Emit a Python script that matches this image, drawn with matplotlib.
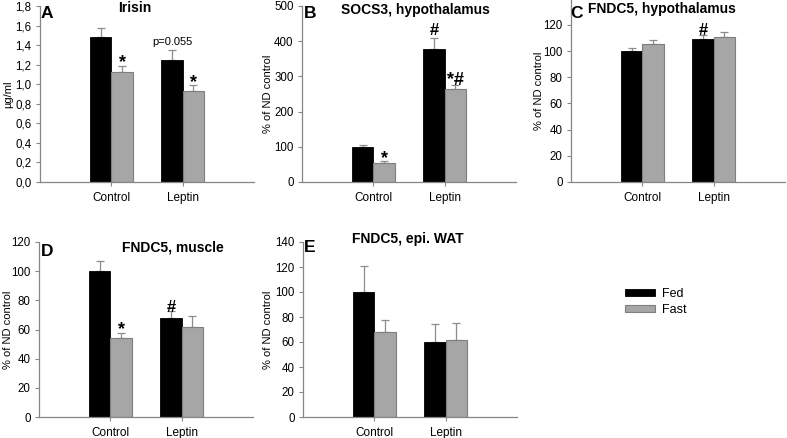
import matplotlib
matplotlib.use("Agg")
import matplotlib.pyplot as plt
from matplotlib.patches import Patch
import numpy as np

plt.rcParams['font.family'] = ['Liberation Sans', 'DejaVu Sans']

categories = ["Control", "Leptin"]
series_names = ["Fed", "Fast"]

# Panel A: Irisin (µg/ml)
a_fed = [1.48, 1.25]
a_fed_err = [0.09, 0.10]
a_fast = [1.12, 0.93]
a_fast_err = [0.07, 0.06]

# Panel B: SOCS3, hypothalamus (% of ND control)
b_fed = [100, 378]
b_fed_err = [4, 32]
b_fast = [54, 265]
b_fast_err = [5, 11]

# Panel C: FNDC5, hypothalamus
c_fed = [100, 109.5]
c_fed_err = [2.5, 2.5]
c_fast = [105.5, 111]
c_fast_err = [3, 3.3]

# Panel D: FNDC5, muscle
d_fed = [100, 68]
d_fed_err = [7, 5]
d_fast = [54.5, 61.5]
d_fast_err = [3.3, 7.5]

# Panel E: FNDC5, epi. WAT
e_fed = [100, 60]
e_fed_err = [20.5, 14.5]
e_fast = [68, 61.5]
e_fast_err = [9.5, 14]

a_yticks = [0, 0.2, 0.4, 0.6, 0.8, 1.0, 1.2, 1.4, 1.6, 1.8]
a_yticklabels = ["0,0", "0,2", "0,4", "0,6", "0,8", "1,0", "1,2", "1,4", "1,6", "1,8"]

W, H = 787, 438
fig = plt.figure(figsize=(W / 100, H / 100), dpi=100)

AX_GRAY = "#868686"
FED_COLOR = "black"
FAST_COLOR = "#a6a6a6"
FAST_EDGE = "#7f7f7f"


def px_axes(left, top, right, bottom):
    return fig.add_axes([left / W, 1 - bottom / H, (right - left) / W, (bottom - top) / H])


def panel(ax, fed, fed_err, fast, fast_err, ylim, yticks, yticklabels, ylabel,
          ylabel_x, title, title_xy, letter, letter_xy, annots):
    x = np.arange(1, len(categories) + 1)
    w = 0.3
    ax.bar(x - w / 2, fed, w, color=FED_COLOR, edgecolor=FED_COLOR, linewidth=0.6, zorder=2)
    ax.bar(x + w / 2, fast, w, color=FAST_COLOR, edgecolor=FAST_EDGE, linewidth=0.8, zorder=2)
    ax.errorbar(x - w / 2, fed, yerr=[np.zeros(len(fed)), fed_err], fmt='none',
                ecolor="#8c8c8c", elinewidth=0.9, capsize=2.8, capthick=0.9, zorder=1)
    ax.errorbar(x + w / 2, fast, yerr=[np.zeros(len(fast)), fast_err], fmt='none',
                ecolor="#8c8c8c", elinewidth=0.9, capsize=2.8, capthick=0.9, zorder=1)
    ax.set_xlim(0, len(categories) + 1)
    ax.set_ylim(*ylim)
    ax.set_yticks(yticks)
    ax.set_yticklabels(yticklabels, fontsize=8.3)
    ax.set_xticks(x)
    ax.set_xticklabels(categories, fontsize=8.5)
    for s in ["top", "right"]:
        ax.spines[s].set_visible(False)
    for s in ["left", "bottom"]:
        ax.spines[s].set_color(AX_GRAY)
        ax.spines[s].set_linewidth(0.9)
    ax.tick_params(axis='both', colors=AX_GRAY, length=3, width=0.8, labelcolor='black')
    ax.tick_params(axis='x', pad=4)
    ax.tick_params(axis='y', pad=3)
    ax.set_ylabel(ylabel, fontsize=8)
    ax.yaxis.set_label_coords(ylabel_x, 0.5)
    fig.text(title_xy[0] / W, 1 - title_xy[1] / H, title, fontsize=10, fontweight='bold',
             ha='center', va='center')
    fig.text(letter_xy[0] / W, 1 - letter_xy[1] / H, letter, fontsize=12.5, fontweight='bold',
             ha='left', va='center')
    for (ci, si, txt, fs, bold, dy) in annots:
        if si == 0:
            xx = x[ci] - w / 2
            yy = fed[ci] + fed_err[ci]
        else:
            xx = x[ci] + w / 2
            yy = fast[ci] + fast_err[ci]
        ax.annotate(txt, (xx, yy), xytext=(0, dy), textcoords='offset points',
                    ha='center', va='bottom', fontsize=fs,
                    fontweight='bold' if bold else 'normal', annotation_clip=False)


axA = px_axes(40, 6, 254, 182)
panel(axA, a_fed, a_fed_err, a_fast, a_fast_err, (0, 1.8), a_yticks, a_yticklabels,
      "µg/ml", -0.125, "Irisin", (135, 8), "A", (41, 13),
      [(0, 1, "*", 13, True, -4), (1, 0, "p=0.055", 8, False, 2), (1, 1, "*", 13, True, -4)])

axB = px_axes(302, 6, 516, 182)
b_ticks = [0, 100, 200, 300, 400, 500]
panel(axB, b_fed, b_fed_err, b_fast, b_fast_err, (0, 500), b_ticks, [str(t) for t in b_ticks],
      "% of ND control", -0.135, "SOCS3, hypothalamus", (415, 10), "B", (304, 14),
      [(0, 1, "*", 13, True, -4), (1, 0, "#", 12, True, 0), (1, 1, "*#", 13, True, -3)])

axC = px_axes(571, -1.2, 785, 182)
c_ticks = [0, 20, 40, 60, 80, 100, 120]
panel(axC, c_fed, c_fed_err, c_fast, c_fast_err, (0, 140), c_ticks, [str(t) for t in c_ticks],
      "% of ND control", -0.125, "FNDC5, hypothalamus", (662, 9), "C", (570, 14),
      [(1, 0, "#", 12, True, -2)])

axD = px_axes(39, 242, 253, 417)
d_ticks = [0, 20, 40, 60, 80, 100, 120]
panel(axD, d_fed, d_fed_err, d_fast, d_fast_err, (0, 120), d_ticks, [str(t) for t in d_ticks],
      "% of ND control", -0.12, "FNDC5, muscle", (173, 248), "D", (41, 251),
      [(0, 1, "*", 13, True, -4), (1, 0, "#", 12, True, -3)])

axE = px_axes(303, 242, 517, 417)
e_ticks = [0, 20, 40, 60, 80, 100, 120, 140]
panel(axE, e_fed, e_fed_err, e_fast, e_fast_err, (0, 140), e_ticks, [str(t) for t in e_ticks],
      "% of ND control", -0.14, "FNDC5, epi. WAT", (408, 239), "E", (304, 247), [])

handles = [Patch(facecolor=FED_COLOR, edgecolor=FED_COLOR, linewidth=0.6),
           Patch(facecolor=FAST_COLOR, edgecolor=FAST_EDGE, linewidth=0.8)]
fig.legend(handles, series_names, loc='upper left', bbox_to_anchor=(616 / W, 1 - 279 / H),
           frameon=False, fontsize=9, handlelength=2.4, handleheight=0.45,
           handletextpad=0.6, labelspacing=0.35, borderpad=0.2)

fig.savefig("out.png", dpi=100)
